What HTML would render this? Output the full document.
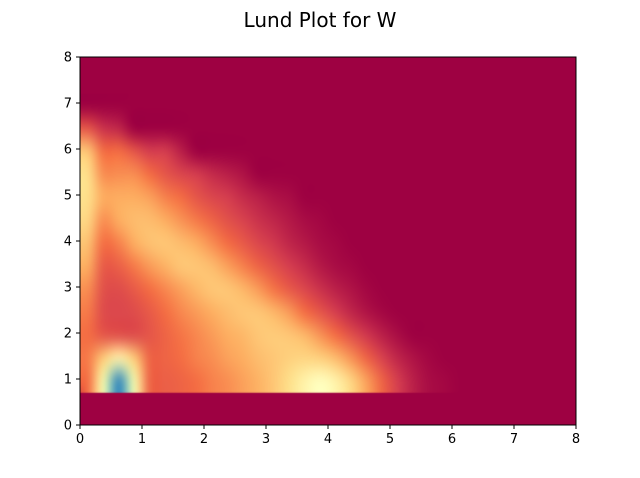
<!DOCTYPE html>
<html><head><meta charset="utf-8"><style>
body{margin:0;background:#fff;}
#wrap{position:relative;width:640px;height:478px;}
#heat{position:absolute;left:80px;top:57px;}
svg{position:absolute;left:0;top:0;display:block;font-family:"DejaVu Sans","Liberation Sans",sans-serif;}
</style></head><body>
<div id="wrap">
<canvas id="heat" width="496" height="368"></canvas>
<svg id="chart" width="640" height="478">
<text x="320" y="27" text-anchor="middle" font-size="20" fill="#000">Lund Plot for W</text>
<g id="axes"></g>
</svg>
</div>
<script>
const xEdges0 = 0, xStep = 0.25;
const yEdges0 = 0.7, yStep = 0.5;
const xTicks = [0,1,2,3,4,5,6,7,8];
const yTicks = [0,1,2,3,4,5,6,7,8];
// rows from y=0.7 upward, 24 columns x=0..6 (values 0..10)
const row0 = [2,5.5,9,5.5,1.8,1.7,1.8,2,2.3,2.5,2.8,3.1,3.5,4,4.6,5,4.6,3.8,2.8,1.8,1,0.5,0.2,0.1];
const row1 = [2.2,3.6,4.6,3.6,1.8,1.8,2,2.3,2.5,2.8,3,3.3,3.5,3.7,3.8,3.7,3.3,2.6,1.8,1.1,0.6,0.3,0.1,0];
const row2 = [2,1.5,1.4,1.3,1.5,1.8,2.1,2.4,2.7,3,3.2,3.5,3.6,3.5,3.2,2.6,2,1.4,0.9,0.5,0.2,0,0,0];
const row3 = [2.2,1.3,1.2,1.3,1.6,2,2.4,2.7,3,3.3,3.5,3.5,3.2,2.7,2,1.5,1,0.6,0.3,0.1,0,0,0,0];
const row4 = [2.5,1.4,1.3,1.6,2,2.4,2.8,3.2,3.5,3.5,3.2,2.7,2.1,1.6,1.2,0.8,0.5,0.3,0.1,0,0,0,0,0];
const row5 = [3,1.6,1.7,2.2,2.7,3.1,3.5,3.5,3.3,2.8,2.3,1.8,1.4,1,0.7,0.4,0.2,0.1,0,0,0,0,0,0];
const row6 = [3.4,2,2.3,3,3.4,3.5,3.3,3,2.5,2,1.6,1.2,0.9,0.6,0.4,0.2,0.1,0,0,0,0,0,0,0];
const row7 = [3.8,2.5,3,3.3,3.3,3,2.6,2.2,1.8,1.4,1.1,0.8,0.6,0.4,0.2,0.1,0,0,0,0,0,0,0,0];
const row8 = [4,3,3,3,2.8,2.3,2,1.5,1.2,1,0.7,0.5,0.3,0.2,0,0,0,0,0,0,0,0,0,0];
const row9 = [4,2.5,2.5,2.5,2,1.5,1.2,1,0.7,0.5,0.3,0,0,0,0,0,0,0,0,0,0,0,0,0];
const row10 = [3.5,2,2,1.5,1,1,0.5,0,0,0,0,0,0,0,0,0,0,0,0,0,0,0,0,0];
const row11 = [1.5,0.8,0.6,0,0,0,0,0,0,0,0,0,0,0,0,0,0,0,0,0,0,0,0,0];
const rows = [row0,row1,row2,row3,row4,row5,row6,row7,row8,row9,row10,row11];

const X0=80, X1=576, Y0=425, Y1=57;
const xs = v => X0 + (v/8)*(X1-X0);
const ys = v => Y0 - (v/8)*(Y0-Y1);
const stops = ["#9e0142","#d53e4f","#f46d43","#fdae61","#fee08b","#ffffbf","#e6f598","#abdda4","#66c2a5","#3288bd","#5e4fa2"];
function hex(c){return [1,3,5].map(i=>parseInt(c.substr(i,2),16));}
function cmap(v){
  v=Math.max(0,Math.min(10,v)); const i=Math.min(9,Math.floor(v)); const f=v-i;
  const a=hex(stops[i]), b=hex(stops[i+1]);
  return "rgb("+a.map((c,k)=>Math.round(c+(b[k]-c)*f)).join(",")+")";
}
const nCols = rows[0].length, nRows = rows.length;
const small = document.createElement("canvas");
small.width = nCols + 4; small.height = nRows + 2;
const sc = small.getContext("2d");
sc.fillStyle = stops[0]; sc.fillRect(0,0,small.width,small.height);
rows.forEach((r,ri)=>{
  r.forEach((v,ci)=>{
    sc.fillStyle = cmap(v);
    sc.fillRect(ci+1, small.height-2-ri, 1, 1);
    if(ci===0){ sc.fillRect(0, small.height-2-ri, 1, 1); }
    if(ri===0){ sc.fillRect(ci+1, small.height-1, 1, 1); }
  });
});
const hc = document.getElementById("heat");
const ctx = hc.getContext("2d");
ctx.fillStyle = stops[0]; ctx.fillRect(0,0,hc.width,hc.height);
ctx.save();
ctx.beginPath(); ctx.rect(0,0,hc.width, ys(yEdges0)-Y1); ctx.clip();
ctx.imageSmoothingEnabled = true; ctx.imageSmoothingQuality = "high";
const cw = xs(xEdges0+xStep)-xs(xEdges0), ch = ys(yEdges0)-ys(yEdges0+yStep);
const dx = xs(xEdges0) - X0 - cw, dyTop = ys(yEdges0 + nRows*yStep) - Y1 - ch;
ctx.drawImage(small, 0, 0, small.width, small.height, dx, dyTop, small.width*cw, small.height*ch);
ctx.restore();

const NS="http://www.w3.org/2000/svg";
const ax=document.getElementById("axes");
const frame=document.createElementNS(NS,"rect");


frame.setAttribute("x",X0);frame.setAttribute("y",Y1);frame.setAttribute("width",X1-X0);frame.setAttribute("height",Y0-Y1);
frame.setAttribute("fill","none");frame.setAttribute("stroke","#000");frame.setAttribute("stroke-width","1");
ax.appendChild(frame);
xTicks.forEach(t=>{
  const l=document.createElementNS(NS,"line");
  
  
  l.setAttribute("x1",xs(t));l.setAttribute("x2",xs(t));l.setAttribute("y1",Y0);l.setAttribute("y2",Y0+4);
  l.setAttribute("stroke","#000");ax.appendChild(l);
  const tx=document.createElementNS(NS,"text");
  
  
  tx.setAttribute("x",xs(t));tx.setAttribute("y",Y0+18);tx.setAttribute("text-anchor","middle");tx.setAttribute("font-size","13");
  tx.textContent=t;ax.appendChild(tx);
});
yTicks.forEach(t=>{
  const l=document.createElementNS(NS,"line");
  
  
  l.setAttribute("x1",X0-4);l.setAttribute("x2",X0);l.setAttribute("y1",ys(t));l.setAttribute("y2",ys(t));
  l.setAttribute("stroke","#000");ax.appendChild(l);
  const tx=document.createElementNS(NS,"text");
  
  
  tx.setAttribute("x",X0-8);tx.setAttribute("y",ys(t)+4.5);tx.setAttribute("text-anchor","end");tx.setAttribute("font-size","13");
  tx.textContent=t;ax.appendChild(tx);
});
</script>
</body></html>
